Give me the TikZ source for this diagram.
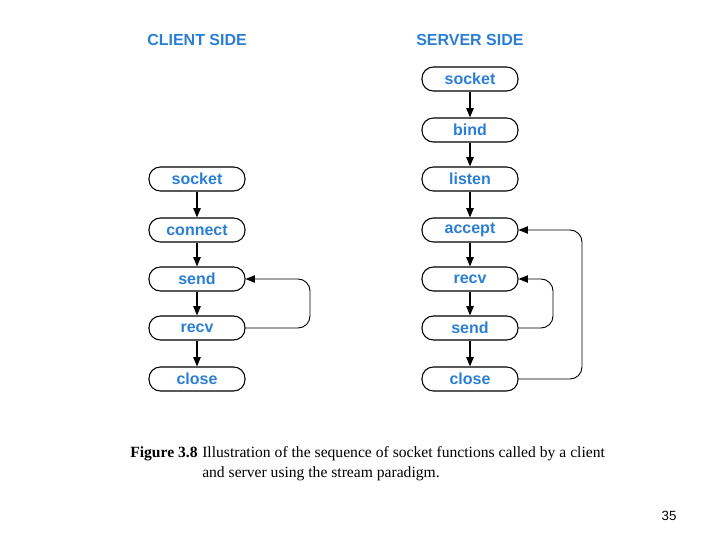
\documentclass[tikz,border=0pt]{standalone}
\usepackage{fontspec}
\setmainfont{Liberation Serif}
\setsansfont{Liberation Sans}
\usetikzlibrary{arrows.meta}
\definecolor{lblue}{HTML}{2A7FD4}
\begin{document}
\begin{tikzpicture}[x=0.75pt,y=-0.75pt,
  fn/.style={draw=black,line width=0.8pt,rounded corners=8.5pt,minimum width=72pt,minimum height=18pt,inner sep=0pt,
    text=lblue,font=\sffamily\bfseries\fontsize{12}{13}\selectfont},
  head/.style={text=lblue,font=\sffamily\bfseries\fontsize{12}{14}\selectfont,anchor=west,inner sep=0pt},
  flow/.style={line width=1.1pt,-{Triangle[length=7pt,width=5.5pt]}},
  loop/.style={line width=0.7pt,rounded corners=9pt,-{Triangle[length=7pt,width=5.5pt]}}]
\useasboundingbox (0,0) rectangle (720,540);
\node[head] (ch) at (147,40) {CLIENT SIDE};
\node[head] (sh) at (416,40) {SERVER SIDE};
% client
\node[fn] (cs) at (197,179) {socket};
\node[fn] (cc) at (197,230) {connect};
\node[fn] (cse) at (197,279) {send};
\node[fn] (cr) at (197,328) {recv};
\node[fn] (ccl) at (197,379) {close};
\draw[flow] (cs) -- (cc);
\draw[flow] (cc) -- (cse);
\draw[flow] (cse) -- (cr);
\draw[flow] (cr) -- (ccl);
\draw[loop] (cr.east) -- (310,328) -- (310,279) -- (cse.east);
% server
\node[fn] (ss) at (470,79) {socket};
\node[fn] (sb) at (470,130) {bind};
\node[fn] (sl) at (470,179) {listen};
\node[fn] (sa) at (470,230) {accept};
\node[fn] (sr) at (470,279) {recv};
\node[fn] (sse) at (470,328) {send};
\node[fn] (scl) at (470,379) {close};
\draw[flow] (ss) -- (sb);
\draw[flow] (sb) -- (sl);
\draw[flow] (sl) -- (sa);
\draw[flow] (sa) -- (sr);
\draw[flow] (sr) -- (sse);
\draw[flow] (sse) -- (scl);
\draw[loop] (sse.east) -- (553,328) -- (553,279) -- (sr.east);
\draw[loop] (scl.east) -- (582,379) -- (582,230) -- (sa.east);
% caption
\node[anchor=north west,inner sep=0pt,font=\fontsize{11.7}{15}\selectfont] (fig) at (130,446) {\textbf{Figure 3.8}};
\node[anchor=north west,inner sep=0pt,text width=302pt,align=justify,font=\fontsize{11.7}{15}\selectfont] (cap) at (202,446)
  {Illustration of the sequence of socket functions called by a client and server using the stream paradigm.};
\node[font=\sffamily\fontsize{10}{12}\selectfont,inner sep=0pt] (pg) at (669,516) {35};
\end{tikzpicture}
\end{document}
